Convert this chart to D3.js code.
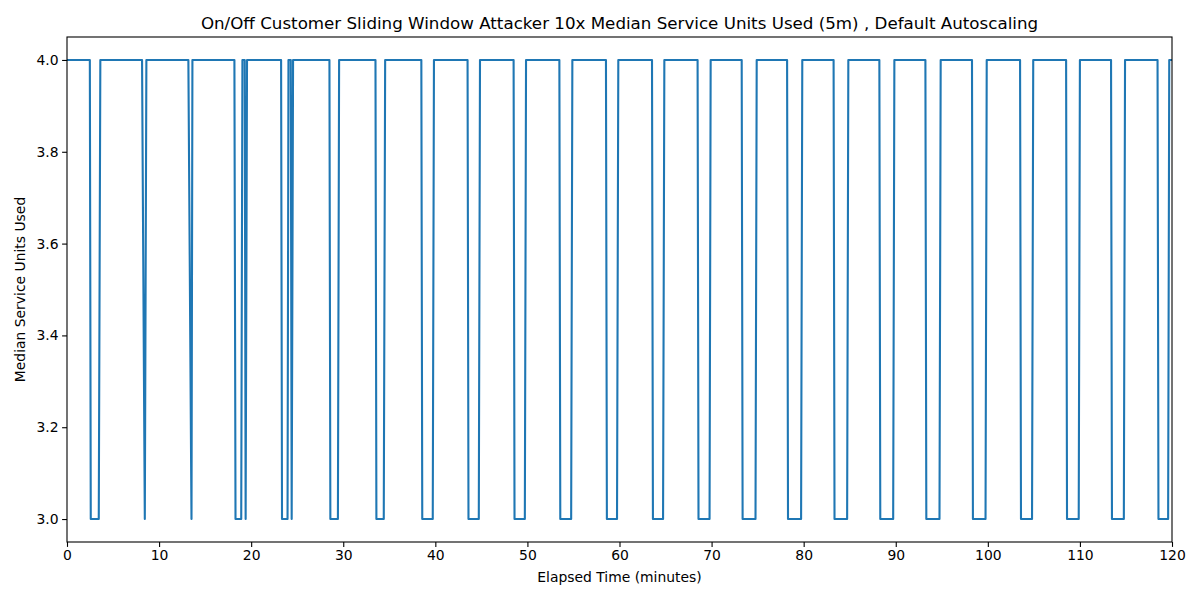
<!DOCTYPE html>
<html><head><meta charset="utf-8">
<script src="https://cdn.jsdelivr.net/npm/d3@7"></script>
<style>body{margin:0;background:#fff}svg{display:block;font-family:"DejaVu Sans",sans-serif}</style>
</head><body><svg id="c" width="1200" height="600"></svg>
<script>
const titleText = "On/Off Customer Sliding Window Attacker 10x Median Service Units Used (5m) , Default Autoscaling";
const xLabel = "Elapsed Time (minutes)";
const yLabel = "Median Service Units Used";
const xTicks = [0,10,20,30,40,50,60,70,80,90,100,110,120];
const yTicks = [3.0,3.2,3.4,3.6,3.8,4.0];
const times = [0,
 2.48,2.58,3.45,3.62,
 8.15,8.45,8.62,
 13.18,13.52,13.62,
 18.18,18.3,18.92,19.05,19.3,19.4,19.55,
 23.25,23.35,23.95,24.05,24.3,24.4,24.55,
 28.5,28.6,29.42,29.55,
 33.5,33.6,34.4,34.55,
 38.48,38.58,39.72,39.85,
 43.5,43.6,44.72,44.85,
 48.5,48.6,49.72,49.85,
 53.47,53.57,54.75,54.88,
 58.53,58.63,59.73,59.87,
 63.53,63.63,64.73,64.87,
 68.48,68.58,69.78,69.9,
 73.27,73.37,74.77,74.9,
 78.2,78.3,79.72,79.85,
 83.25,83.35,84.72,84.85,
 88.22,88.32,89.72,89.85,
 93.22,93.32,94.75,94.88,
 98.28,98.38,99.75,99.88,
 103.5,103.6,104.8,104.93,
 108.5,108.6,109.87,110.0,
 113.38,113.48,114.77,114.9,
 118.43,118.53,119.58,119.7,
 120];
const values = [4,
 4,3,3,4,
 4,3,4,
 4,3,4,
 4,3,3,4,4,3,4,
 4,3,3,4,4,3,4,
 4,3,3,4,
 4,3,3,4,
 4,3,3,4,
 4,3,3,4,
 4,3,3,4,
 4,3,3,4,
 4,3,3,4,
 4,3,3,4,
 4,3,3,4,
 4,3,3,4,
 4,3,3,4,
 4,3,3,4,
 4,3,3,4,
 4,3,3,4,
 4,3,3,4,
 4,3,3,4,
 4,3,3,4,
 4,3,3,4,
 4,3,3,4,
 4];

const svg = d3.select("#c");
const L=67,R=1172,T=37,B=542;
const x = d3.scaleLinear().domain([0,120]).range([L,R]);
const y = d3.scaleLinear().domain([2.95,4.05]).range([B,T]);
const data = times.map((t,i)=>({t, v: values[i]}));

svg.append("text").attr("x",(L+R)/2).attr("y",29).attr("text-anchor","middle")
  .style("font-size","16.7px").text(titleText);

const g = svg.append("g");
g.append("path").datum(data).attr("fill","none").attr("stroke","#1f77b4")
  .attr("stroke-width",2.1).attr("stroke-linejoin","round")
  .attr("d", d3.line().x(d=>x(d.t)).y(d=>y(d.v)));

const xa = svg.append("g").attr("transform",`translate(0,${B})`)
  .call(d3.axisBottom(x).tickValues(xTicks).tickSize(4.9).tickPadding(3.5).tickFormat(d3.format("d")));
const ya = svg.append("g").attr("transform",`translate(${L},0)`)
  .call(d3.axisLeft(y).tickValues(yTicks).tickSize(4.9).tickPadding(3.5).tickFormat(d3.format(".1f")));
[xa,ya].forEach(a=>{
  a.select(".domain").remove();
  a.selectAll("line").attr("stroke","#000").attr("stroke-width",1.1);
  a.selectAll("text").style("font-size","13.9px").attr("fill","#000").style("font-family","DejaVu Sans");
});
svg.append("rect").attr("x",L).attr("y",T).attr("width",R-L).attr("height",B-T)
  .attr("fill","none").attr("stroke","#000").attr("stroke-width",1.1);

svg.append("text").attr("x",(L+R)/2).attr("y",582).attr("text-anchor","middle")
  .style("font-size","13.9px").text(xLabel);
svg.append("text").attr("transform",`translate(25,${(T+B)/2}) rotate(-90)`).attr("text-anchor","middle")
  .style("font-size","13.9px").text(yLabel);
</script></body></html>
